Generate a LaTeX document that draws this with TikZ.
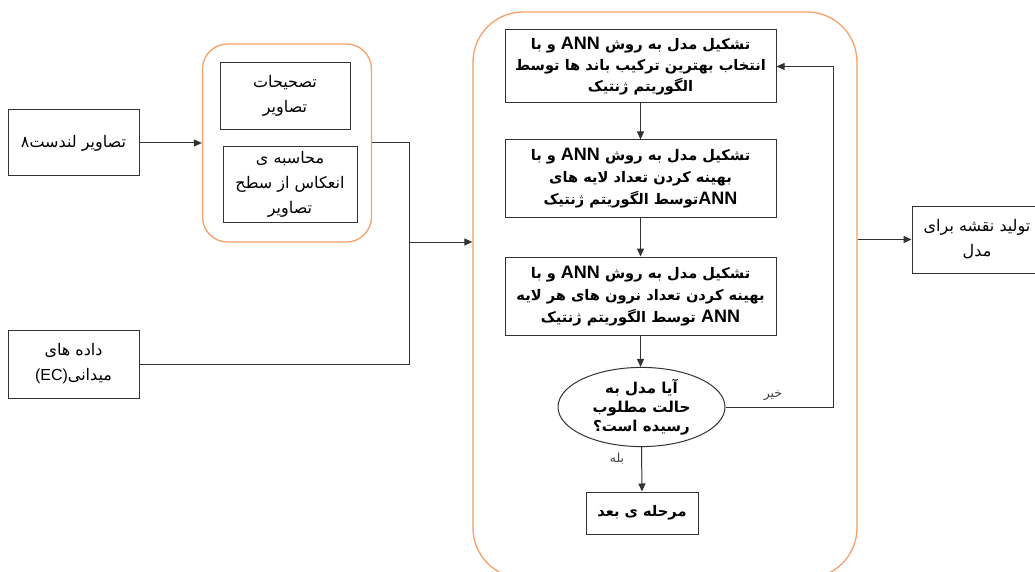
\documentclass[tikz,border=0pt]{standalone}
\usepackage{fontspec}
\usetikzlibrary{arrows.meta,shapes.geometric}
\TeXXeTstate=1
\newfontfamily\fa[Script=Arabic]{DejaVu Sans}
\newfontfamily\lat{Liberation Sans}
\newcommand\rl[1]{\beginR #1\endR}
\newcommand\ann{\beginL{\lat\bfseries\fontsize{18}{22}\selectfont ANN}\endL}
\definecolor{orng}{RGB}{243,160,105}
\definecolor{ln}{RGB}{50,50,50}
\tikzset{
  box/.style={draw=ln, line width=1pt, align=center, inner sep=2pt, font=\fa\fontsize{16}{25}\selectfont},
  bbox/.style={box, font=\fa\bfseries\fontsize{14.6}{22}\selectfont},
  grp/.style={draw=orng, line width=1.3pt, rounded corners=#1},
  arr/.style={draw=ln, line width=1pt, -{Triangle[length=8pt,width=7pt]}},
  con/.style={draw=ln, line width=1pt},
  lbl/.style={font=\fa\fontsize{12.5}{14}\selectfont, text=black!75}
}
\begin{document}
\begin{tikzpicture}[x=1pt,y=-1pt]
\useasboundingbox (0,0) rectangle (1035,572);
% groups
\node[grp=25pt, minimum width=169pt, minimum height=198pt] (grp1) at (287,143) {};
\node[grp=50pt, minimum width=384pt, minimum height=566pt] (grp2) at (665,295) {};
% left inputs
\node[box, minimum width=131pt, minimum height=66pt] (landsat) at (73.5,143) {\rl{تصاویر لندست۸}};
\node[box, minimum width=131pt, minimum height=68pt] (field) at (73.5,364) {\rl{داده های}\\\rl{میدانی\beginL{\lat(EC)}\endL}};
% inner left boxes
\node[box, minimum width=130pt, minimum height=67pt] (corr) at (285,96) {\rl{تصحیحات}\\\rl{تصاویر}};
\node[box, minimum width=134pt, minimum height=75pt] (refl) at (290,184.5) {\rl{محاسبه ی}\\\rl{انعکاس از سطح}\\\rl{تصاویر}};
% middle flow
\node[bbox, minimum width=271pt, minimum height=73pt, font=\fa\bfseries\fontsize{14.6}{21}\selectfont] (a1) at (640.5,66.5) {\rl{تشکیل مدل به روش \ann{} و با}\\\rl{انتخاب بهترین ترکیب باند ها توسط}\\\rl{الگوریتم ژنتیک}};
\node[bbox, minimum width=271pt, minimum height=77pt] (a2) at (640.5,178.5) {\rl{تشکیل مدل به روش \ann{} و با}\\\rl{بهینه کردن تعداد لایه های}\\\rl{\ann توسط الگوریتم ژنتیک}};
\node[bbox, minimum width=271pt, minimum height=78pt] (a3) at (640.5,296) {\rl{تشکیل مدل به روش \ann{} و با}\\\rl{بهینه کردن تعداد نرون های هر لایه}\\\rl{\ann{} توسط الگوریتم ژنتیک}};
\node[bbox, ellipse, inner sep=0pt, minimum width=167pt, minimum height=76pt, font=\fa\bfseries\fontsize{15}{19}\selectfont] (dec) at (641.5,407) {\rl{آیا مدل به}\\\rl{حالت مطلوب}\\\rl{رسیده است؟}};
\node[bbox, minimum width=112pt, minimum height=42pt] (fin) at (642,513) {\rl{مرحله ی بعد}};
% output
\node[box, minimum width=130pt, minimum height=67pt] (out) at (977,239.5) {\rl{تولید نقشه برای}\\\rl{مدل}};
% connectors
\coordinate (jt) at (409,143);
\coordinate (jm) at (409,242);
\coordinate (jb) at (409,364);
\draw[arr] (landsat.east) -- (landsat.east -| grp1.west);
\draw[con] (grp1.east |- jt) -- (jt) -- (jb) -- (field.east);
\draw[arr] (jm) -- (jm -| grp2.west);
\draw[arr] (grp2.east |- out.west) -- (out.west);
\draw[arr] (a1.south) -- (a2.north);
\draw[arr] (a2.south) -- (a3.north);
\draw[arr] (a3.south) -- (a3.south |- dec.north);
\draw[arr] (dec.south) -- (fin.north);
\coordinate (fb) at (833,407);
\draw[arr] (dec.east) -- (fb) |- (a1.east);
\node[lbl] (no) at (773,396) {\rl{خیر}};
\node[lbl] (yes) at (617,459) {\rl{بله}};
\end{tikzpicture}
\end{document}
